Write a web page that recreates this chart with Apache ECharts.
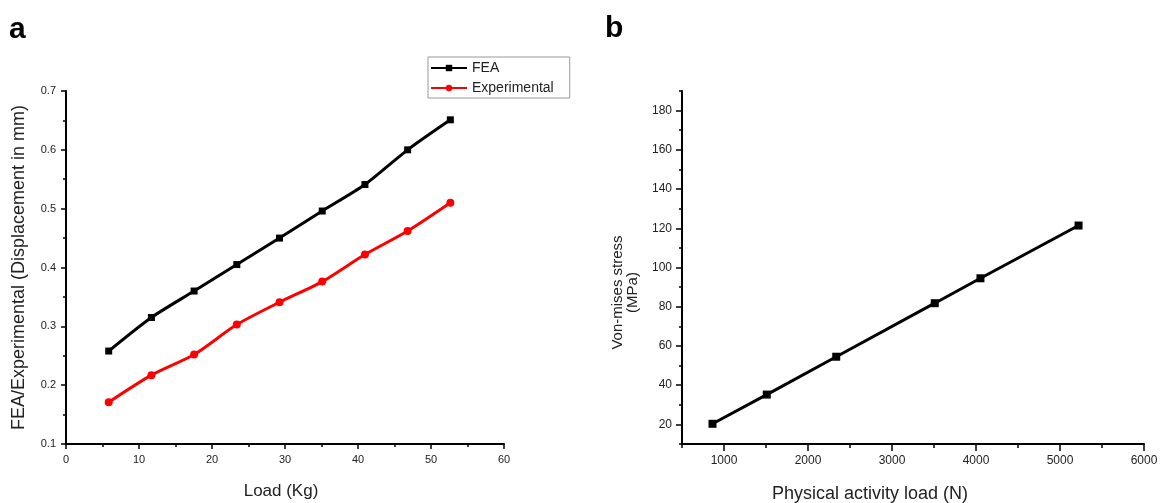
<!DOCTYPE html>
<html>
<head>
<meta charset="utf-8">
<script src="https://cdn.jsdelivr.net/npm/echarts@6/dist/echarts.min.js"></script>
<style>
  html, body { margin: 0; padding: 0; background: #fff; }
  #chart { width: 1162px; height: 503px; }
</style>
</head>
<body>
<div id="chart"></div>
<script>
// panel a: displacement vs load
const loadKg = [5.85, 11.7, 17.55, 23.4, 29.25, 35.1, 40.95, 46.8, 52.65];
const feaDisp = [0.258, 0.315, 0.360, 0.405, 0.450, 0.496, 0.541, 0.600, 0.651];
const expDisp = [0.171, 0.217, 0.252, 0.303, 0.341, 0.376, 0.422, 0.462, 0.510];

// panel b: von-mises stress vs physical activity load
const activityLoad = [863, 1509, 2336, 3509, 4053, 5221];
const vonMises = [20.3, 35.2, 54.5, 81.8, 94.5, 121.4];
const stressTicks = [20, 40, 60, 80, 100, 120, 140, 160, 180];
const stressMinor = [10, 30, 50, 70, 90, 110, 130, 150, 170, 190];
const loadNTicks = [1000, 2000, 3000, 4000, 5000, 6000];
const loadNMinor = [500, 1500, 2500, 3500, 4500, 5500];

const font = 'Liberation Sans';
const txt = '#222';

const pairs = (xs, ys) => xs.map((x, i) => [x, ys[i]]);
const plain = v => String(v);

const axisLine = { lineStyle: { color: '#000', width: 2 } };
const tickStyle = { width: 1.5, color: '#000' };

const chart = echarts.init(document.getElementById('chart'));
chart.setOption({
  animation: false,
  textStyle: { fontFamily: font },
  title: [
    { text: 'a', left: 4, top: 10, textStyle: { fontSize: 30, fontWeight: 'bold', color: '#000', fontFamily: font } },
    { text: 'b', left: 600, top: 9, textStyle: { fontSize: 30, fontWeight: 'bold', color: '#000', fontFamily: font } }
  ],
  legend: {
    data: ['FEA', 'Experimental'],
    orient: 'vertical',
    left: 428,
    top: 57,
    itemWidth: 36,
    itemHeight: 8,
    itemGap: 6,
    padding: [4, 16, 3, 2],
    borderColor: '#999',
    borderWidth: 1,
    textStyle: { fontSize: 14, color: txt, fontFamily: font }
  },
  grid: [
    { left: 66, top: 91, width: 438, height: 353, outerBoundsMode: 'none', containLabel: false },
    { left: 682, top: 91, width: 462, height: 353, outerBoundsMode: 'none', containLabel: false }
  ],
  xAxis: [
    {
      gridIndex: 0, type: 'value', min: 0, max: 60, interval: 10, position: 'bottom',
      name: 'Load (Kg)', nameLocation: 'middle', nameGap: 39,
      nameTextStyle: { fontSize: 17, color: txt, padding: [0, 8, 0, 0] },
      axisLine: axisLine,
      axisTick: { length: 5, lineStyle: tickStyle },
      minorTick: { show: true, splitNumber: 2, length: 3, lineStyle: tickStyle },
      axisLabel: { fontSize: 11, color: txt, margin: 10 },
      splitLine: { show: false }
    },
    {
      gridIndex: 1, type: 'value', min: 500, max: 6000, position: 'bottom',
      name: 'Physical activity load (N)', nameLocation: 'middle', nameGap: 41,
      nameTextStyle: { fontSize: 18, color: txt, padding: [0, 86, 0, 0] },
      axisLine: axisLine,
      axisTick: { customValues: loadNTicks, length: 7, lineStyle: tickStyle },
      axisLabel: { customValues: loadNTicks, formatter: plain, fontSize: 12, color: txt, margin: 11 },
      splitLine: { show: false }
    },
    {
      gridIndex: 1, type: 'value', min: 500, max: 6000, position: 'bottom', offset: 0,
      axisLine: { show: false },
      axisTick: { customValues: loadNMinor, length: 4, lineStyle: tickStyle },
      axisLabel: { show: false },
      splitLine: { show: false }
    }
  ],
  yAxis: [
    {
      gridIndex: 0, type: 'value', min: 0.1, max: 0.7, interval: 0.1, position: 'left',
      name: 'FEA/Experimental (Displacement in mm)', nameLocation: 'middle', nameGap: 38,
      nameTextStyle: { fontSize: 18, color: txt },
      axisLine: axisLine,
      axisTick: { length: 5, lineStyle: tickStyle },
      minorTick: { show: true, splitNumber: 2, length: 3, lineStyle: tickStyle },
      axisLabel: { fontSize: 11, color: txt, margin: 10 },
      splitLine: { show: false }
    },
    {
      gridIndex: 1, type: 'value', min: 10, max: 190, position: 'left',
      name: 'Von-mises stress\n(MPa)', nameLocation: 'middle', nameGap: 42,
      nameTextStyle: { fontSize: 15, color: txt, lineHeight: 15, padding: [0, 50, 0, 0] },
      axisLine: axisLine,
      axisTick: { customValues: stressTicks, length: 6, lineStyle: tickStyle },
      axisLabel: { customValues: stressTicks, fontSize: 12, color: txt, margin: 10 },
      splitLine: { show: false }
    },
    {
      gridIndex: 1, type: 'value', min: 10, max: 190, position: 'left', offset: 0,
      axisLine: { show: false },
      axisTick: { customValues: stressMinor, length: 3, lineStyle: tickStyle },
      axisLabel: { show: false },
      splitLine: { show: false }
    }
  ],
  series: [
    {
      name: 'FEA', type: 'line', xAxisIndex: 0, yAxisIndex: 0,
      data: pairs(loadKg, feaDisp), smooth: 0.25,
      symbol: 'rect', symbolSize: 7,
      lineStyle: { color: '#000', width: 3 },
      itemStyle: { color: '#000' }
    },
    {
      name: 'Experimental', type: 'line', xAxisIndex: 0, yAxisIndex: 0,
      data: pairs(loadKg, expDisp), smooth: 0.25,
      symbol: 'circle', symbolSize: 8,
      lineStyle: { color: '#ff0000', width: 3 },
      itemStyle: { color: '#ff0000' }
    },
    {
      name: 'Von-mises stress', type: 'line', xAxisIndex: 1, yAxisIndex: 1,
      data: pairs(activityLoad, vonMises),
      symbol: 'rect', symbolSize: 8,
      lineStyle: { color: '#000', width: 3 },
      itemStyle: { color: '#000' }
    }
  ]
});
</script>
</body>
</html>
